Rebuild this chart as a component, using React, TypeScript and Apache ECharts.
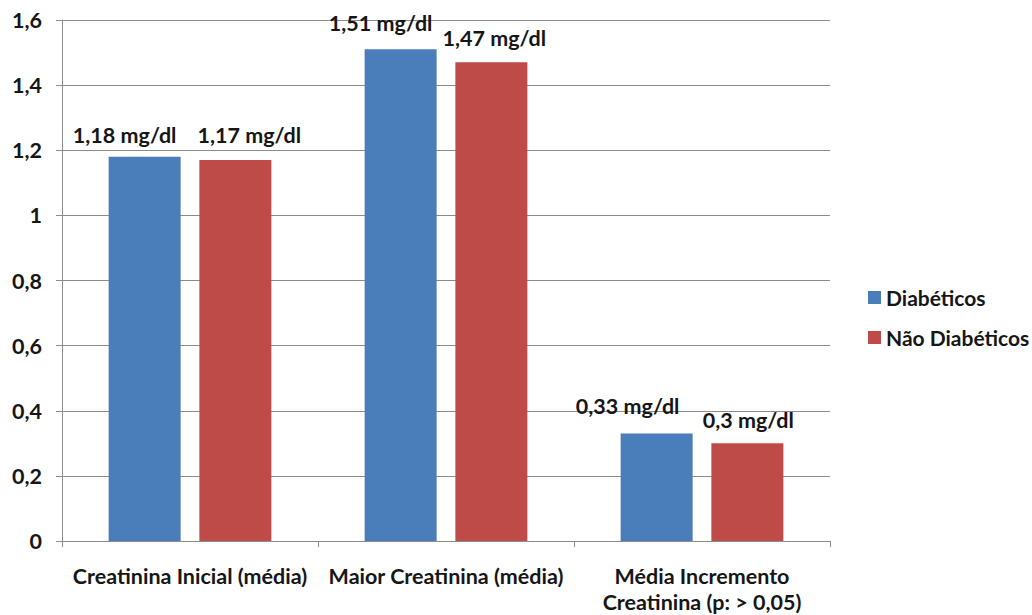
import React, { useEffect, useRef } from "react";
import * as echarts from "echarts";

const categories = [
  "Creatinina Inicial (média)",
  "Maior Creatinina (média)",
  "Média Incremento\nCreatinina (p: > 0,05)",
];
const diabeticos = [1.18, 1.51, 0.33];
const naoDiabeticos = [1.17, 1.47, 0.3];
const seriesNames = ["Diabéticos", "Não Diabéticos"];
const diabLabelOffsets = [[-20, -6], [-20, -10], [-29, -12]];
const naoLabelOffsets = [[14, -9], [3, -8], [1, -7]];

const FONT = "Lato, 'Open Sans', sans-serif";
const TXT = "#161616";
const fmt = (v: number) => String(v).replace(".", ",");

export default function App() {
  const ref = useRef<HTMLDivElement>(null);
  useEffect(() => {
    if (!ref.current) return;
    const chart = echarts.init(ref.current, null, { renderer: "svg" });
    const mk = (vals: number[], offs: number[][]) =>
      vals.map((v, i) => ({
        value: v,
        label: { offset: offs[i] },
      }));
    const labelStyle = {
      show: true,
      position: "top",
      distance: 5,
      fontFamily: FONT,
      fontSize: 21.5,
      fontWeight: "bold",
      color: TXT,
      formatter: (p: any) => fmt(p.value) + " mg/dl",
    };
    chart.setOption({
      animation: false,
      backgroundColor: "#ffffff",
      textStyle: { fontFamily: FONT },
      grid: { left: 62, right: 202, top: 20, bottom: 72, containLabel: false },
      legend: {
        orient: "vertical",
        left: 863,
        top: 282,
        itemWidth: 13,
        itemHeight: 13,
        itemGap: 19,
        icon: "rect",
        data: seriesNames,
        textStyle: { fontFamily: FONT, fontSize: 21, fontWeight: "bold", color: TXT },
      },
      xAxis: {
        type: "category",
        data: categories,
        axisLine: { show: true, lineStyle: { color: "#8c8c8c", width: 1 } },
        axisTick: { show: true, length: 6, lineStyle: { color: "#8c8c8c" } },
        axisLabel: {
          fontFamily: FONT,
          fontSize: 21.5,
          fontWeight: "bold",
          color: TXT,
          margin: 22,
          lineHeight: 26,
          interval: 0,
        },
      },
      yAxis: {
        type: "value",
        min: 0,
        max: 1.6,
        interval: 0.2,
        axisLine: { show: true, lineStyle: { color: "#8c8c8c", width: 1 } },
        axisTick: { show: true, length: 6, lineStyle: { color: "#8c8c8c" } },
        splitLine: { show: true, lineStyle: { color: "#8c8c8c", width: 1 } },
        axisLabel: {
          fontFamily: FONT,
          fontSize: 21.5,
          fontWeight: "bold",
          color: TXT,
          margin: 20,
          formatter: (v: number) => fmt(Math.round(v * 10) / 10),
        },
      },
      series: [
        {
          name: seriesNames[0],
          type: "bar",
          data: mk(diabeticos, diabLabelOffsets),
          barWidth: 72,
          barGap: "26%",
          itemStyle: { color: "#4a7ebb" },
          label: labelStyle,
        },
        {
          name: seriesNames[1],
          type: "bar",
          data: mk(naoDiabeticos, naoLabelOffsets),
          barWidth: 72,
          itemStyle: { color: "#be4b48" },
          label: labelStyle,
        },
      ],
    });
    return () => chart.dispose();
  }, []);
  return <div ref={ref} style={{ width: 1032, height: 615, position: "absolute", left: 0, top: 0 }} />;
}
